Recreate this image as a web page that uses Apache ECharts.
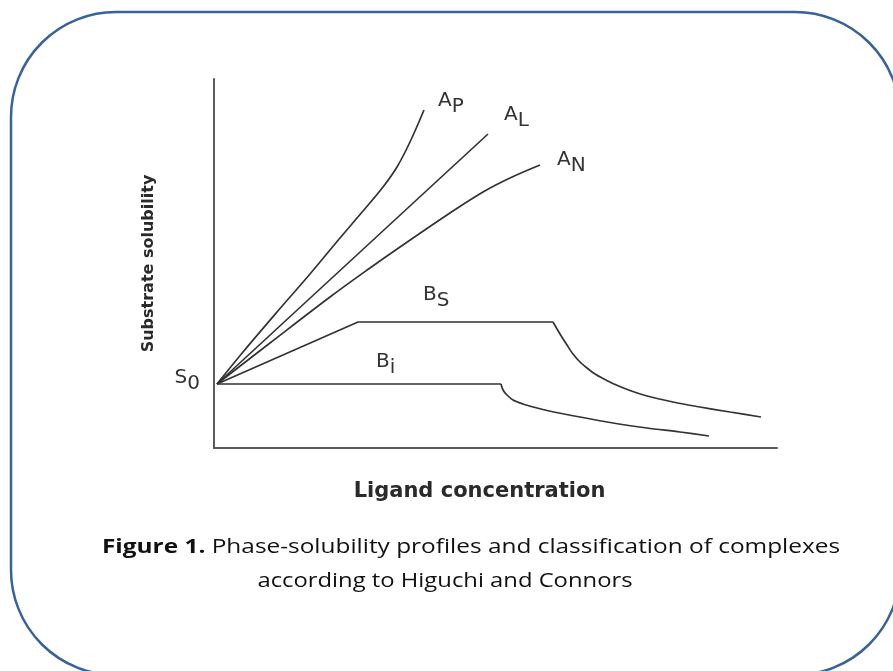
<!DOCTYPE html>
<html>
<head>
<meta charset="utf-8">
<script src="https://cdn.jsdelivr.net/npm/echarts@6/dist/echarts.min.js"></script>
<style>
  html, body { margin: 0; padding: 0; background: #fff; }
  #phase-chart { width: 893px; height: 671px; }
</style>
</head>
<body>
<div id="phase-chart"></div>
<script>
// curves, [ligand, solubility] in arbitrary units
const apCurve = [[0.3, 6.4], [2.9, 9.6], [6.3, 13.6], [9.6, 17.4], [12.6, 21.0], [14.9, 23.7], [16.9, 26.1], [18.3, 28.1], [19.6, 30.6], [21.0, 33.8]];
const alCurve = [[0.3, 6.4], [27.4, 31.4]];
const anCurve = [[0.3, 6.4], [5.6, 10.5], [11.6, 15.1], [15.6, 18.0], [18.6, 20.1], [23.6, 23.5], [26.9, 25.6], [29.6, 27.0], [32.6, 28.3]];
const bsCurve = [[0.3, 6.4], [14.4, 12.6], [33.9, 12.6], [34.6, 11.4], [35.3, 10.3], [35.9, 9.4], [36.6, 8.6], [37.3, 8.0], [38.1, 7.4], [39.0, 6.9], [40.0, 6.4], [41.6, 5.75], [43.3, 5.2], [45.9, 4.6], [48.3, 4.15], [51.6, 3.6], [54.7, 3.1]];
const biCurve = [[0.3, 6.4], [28.7, 6.4], [28.9, 5.8], [29.3, 5.3], [29.9, 4.8], [30.9, 4.4], [32.3, 4.0], [33.3, 3.75], [36.6, 3.1], [39.9, 2.5], [43.3, 2.0], [46.6, 1.6], [49.5, 1.2]];

const xMax = 56.3;
const yMax = 36.9;

const captionLines = ['{b|Figure 1.} Phase-solubility profiles and classification of complexes', 'according to Higuchi and Connors'];

const lineColor = '#333';
const txtColor = '#333';

const subRich = {
  m: { fontSize: 20, fontFamily: 'DejaVu Sans', color: txtColor },
  s: { fontSize: 20, fontFamily: 'DejaVu Sans', color: txtColor, padding: [12, 0, 0, 0] }
};

function sub(main, low) {
  return '{m|' + main + '}{s|' + low + '}';
}

function curve(name, data, smooth, endText, endOffset) {
  const s = {
    name: name,
    type: 'line',
    data: data,
    smooth: smooth,
    symbol: 'circle',
    symbolSize: 0,
    showSymbol: true,
    lineStyle: { color: lineColor, width: 1.7 },
    itemStyle: { color: lineColor },
    label: { show: false },
    emphasis: { disabled: true }
  };
  if (endText) {
    s.endLabel = {
      show: true,
      formatter: endText,
      offset: endOffset,
      rich: subRich
    };
  }
  return s;
}

// B curves: straight plateau part, then a smooth decay from the corner
const series = [
  curve('AP', apCurve.slice(), 0.35, sub('A', 'P'), [6, -9]),
  curve('AL', alCurve.slice(), false, sub('A', 'L'), [8, -19]),
  curve('AN', anCurve.slice(), 0.35, sub('A', 'N'), [9, -5]),
  curve('BS', bsCurve.slice(0, 3), false),
  curve('BS decay', bsCurve.slice(2), 0.3),
  curve('Bi', biCurve.slice(0, 2), false),
  curve('Bi decay', biCurve.slice(1), 0.3)
];

// S0 on the common origin, BS over its plateau, Bi over the Bi plateau
series[0].data[0] = {
  value: apCurve[0],
  label: { show: true, position: 'left', distance: 5, offset: [-12, -6], formatter: sub('S', '0'), rich: subRich }
};
series[3].data[1] = {
  value: bsCurve[1],
  label: { show: true, position: 'right', distance: 5, offset: [60, -27], formatter: sub('B', 'S'), rich: subRich }
};
series[5].data[0] = {
  value: biCurve[0],
  label: { show: true, position: 'right', distance: 5, offset: [154, -22], formatter: sub('B', 'i'), rich: subRich }
};

const captionStyle = {
  align: 'center',
  fontFamily: 'Open Sans',
  fontSize: 20,
  lineHeight: 34,
  fill: '#111',
  rich: {
    b: { fontFamily: 'Open Sans', fontSize: 20, fontWeight: 'bold', fill: '#111', lineHeight: 34 }
  }
};

const myChart = echarts.init(document.getElementById('phase-chart'));
myChart.setOption({
  animation: false,
  graphic: [{
    type: 'rect',
    silent: true,
    shape: { x: 11, y: 12, width: 889, height: 663, r: 105 },
    style: { fill: 'none', stroke: '#3a6298', lineWidth: 2.5 }
  }, {
    type: 'text',
    silent: true,
    x: 471,
    y: 530,
    scaleX: 1.22,
    style: Object.assign({ text: captionLines[0] }, captionStyle)
  }, {
    type: 'text',
    silent: true,
    x: 445,
    y: 564,
    scaleX: 1.19,
    style: Object.assign({ text: captionLines[1] }, captionStyle)
  }],
  grid: { left: 214, right: 116, top: 79, bottom: 223 },
  xAxis: {
    type: 'value',
    min: 0,
    max: xMax,
    name: 'Ligand concentration',
    nameLocation: 'middle',
    nameGap: 33,
    nameTextStyle: { fontFamily: 'DejaVu Sans', fontWeight: 'bold', fontSize: 21, color: '#2a2a2a', padding: [0, 32, 0, 0] },
    axisLine: { lineStyle: { color: '#5a5a5a', width: 2 } },
    axisTick: { show: false },
    axisLabel: { show: false },
    splitLine: { show: false }
  },
  yAxis: {
    type: 'value',
    min: 0,
    max: yMax,
    name: 'Substrate solubility',
    nameLocation: 'middle',
    nameGap: 57,
    nameTextStyle: { fontFamily: 'DejaVu Sans', fontWeight: 'bold', fontSize: 16, color: '#2a2a2a' },
    axisLine: { show: true, lineStyle: { color: '#5a5a5a', width: 2 } },
    axisTick: { show: false },
    axisLabel: { show: false },
    splitLine: { show: false }
  },
  series: series
});
</script>
</body>
</html>
